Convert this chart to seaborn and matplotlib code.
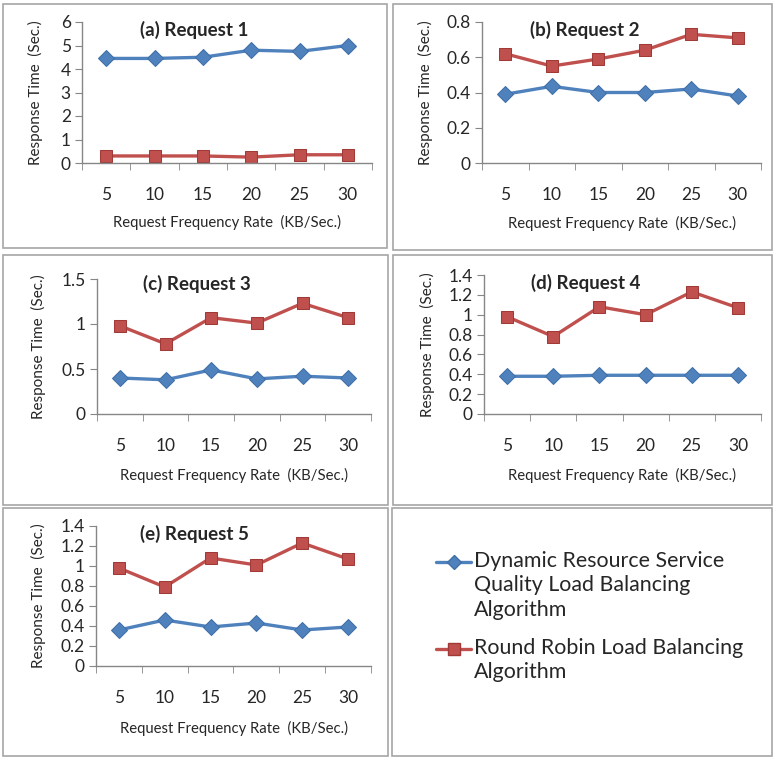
import pandas as pd
import numpy as np
import matplotlib.pyplot as plt
import seaborn as sns
from matplotlib.patches import Rectangle
from matplotlib.lines import Line2D

# ── Data ─────────────────────────────────────────────────────
rates = ["5", "10", "15", "20", "25", "30"]
algos = ["Dynamic Resource Service\nQuality Load Balancing\nAlgorithm",
         "Round Robin Load Balancing\nAlgorithm"]
titles = ["(a) Request 1", "(b) Request 2", "(c) Request 3",
          "(d) Request 4", "(e) Request 5"]

drsq = [
    [4.45, 4.45, 4.50, 4.80, 4.75, 5.00],
    [0.39, 0.435, 0.40, 0.40, 0.42, 0.38],
    [0.40, 0.38, 0.49, 0.39, 0.42, 0.40],
    [0.38, 0.38, 0.39, 0.39, 0.39, 0.39],
    [0.36, 0.46, 0.39, 0.43, 0.36, 0.39],
]
round_robin = [
    [0.30, 0.30, 0.30, 0.25, 0.35, 0.35],
    [0.62, 0.55, 0.59, 0.64, 0.73, 0.71],
    [0.98, 0.78, 1.07, 1.01, 1.23, 1.07],
    [0.98, 0.78, 1.08, 1.00, 1.23, 1.07],
    [0.98, 0.79, 1.08, 1.01, 1.23, 1.07],
]
y_ticks = [
    [0, 1, 2, 3, 4, 5, 6],
    [0, 0.2, 0.4, 0.6, 0.8],
    [0, 0.5, 1, 1.5],
    [0, 0.2, 0.4, 0.6, 0.8, 1, 1.2, 1.4],
    [0, 0.2, 0.4, 0.6, 0.8, 1, 1.2, 1.4],
]

# ── Style ────────────────────────────────────────────────────
sns.set_style("white")
plt.rcParams["font.family"] = ["Lato", "DejaVu Sans"]

BLUE = "#4F81BD"
RED = "#C0504D"
BLUE_EDGE = "#3F6FA8"
RED_EDGE = "#A03A37"
AXIS = "#868686"
W, H = 773, 757

fig = plt.figure(figsize=(W / 100, H / 100), dpi=100)


def fx(px):
    return px / W


def fy(py):
    return 1 - py / H


# panel frames (pixels: x0, y0, x1, y1)
frames = [(3, 4, 387, 248), (393, 4, 772, 250), (3, 255, 388, 505),
          (393, 255, 772, 505), (3, 508, 388, 756), (392, 508, 772, 756)]
for x0, y0, x1, y1 in frames:
    fig.add_artist(Rectangle((fx(x0), fy(y1)), fx(x1 - x0), (y1 - y0) / H,
                             fill=False, edgecolor="#A6A6A6", lw=1.2))

# axes positions (pixels: x0, x1, ytop, ybot) and label spots
boxes = [(82, 372, 22, 163), (482, 761, 22, 163), (97, 371, 279, 414),
         (484, 761, 275, 414), (96, 371, 526, 666)]
ylab_x = [35, 425, 38, 427, 38]
xlab_y = [222, 223, 475, 475, 728]
title_xy = [(194, 30), (585, 30), (197, 284), (586, 283), (194, 534)]

for i in range(5):
    x0, x1, yt, yb = boxes[i]
    ax = fig.add_axes([fx(x0), fy(yb), (x1 - x0) / W, (yb - yt) / H])
    df = pd.DataFrame({
        "rate": rates * 2,
        "time": drsq[i] + round_robin[i],
        "algo": [algos[0]] * 6 + [algos[1]] * 6,
    })
    sns.lineplot(data=df, x="rate", y="time", hue="algo", style="algo",
                 palette=[BLUE, RED], markers=["D", "s"], dashes=False,
                 lw=2.4, markersize=8, legend=False, ax=ax)
    for ln, ec in zip(ax.lines, [BLUE_EDGE, RED_EDGE]):
        ln.set_markeredgecolor(ec)
    ax.lines[1].set_markersize(9)

    ax.set_xlim(-0.5, 5.5)
    ax.set_ylim(y_ticks[i][0], y_ticks[i][-1])
    ax.set_yticks(y_ticks[i])
    ax.set_yticklabels([f"{t:g}" for t in y_ticks[i]])
    ax.set_xticks(range(6))
    ax.set_xticklabels(rates)
    ax.set_xticks(np.arange(-0.5, 6, 1), minor=True)
    ax.tick_params(axis="x", which="major", length=0, pad=17,
                   labelsize=12.5)
    ax.tick_params(axis="x", which="minor", length=5, color=AXIS,
                   direction="out", bottom=True)
    ax.tick_params(axis="y", length=5, color=AXIS, direction="out",
                   left=True, labelsize=12.5, pad=3)
    for s in ["top", "right"]:
        ax.spines[s].set_visible(False)
    for s in ["left", "bottom"]:
        ax.spines[s].set_color(AXIS)
        ax.spines[s].set_linewidth(1.0)
    ax.patch.set_alpha(0)

    ax.set_xlabel("Request Frequency Rate  (KB/Sec.)", fontsize=10.7)
    ax.set_ylabel("Response Time  (Sec.)", fontsize=11)
    ax.xaxis.set_label_coords(0.5, (yb - xlab_y[i]) / (yb - yt),
                              transform=ax.transAxes)
    ax.yaxis.set_label_coords((ylab_x[i] - x0) / (x1 - x0), 0.5,
                              transform=ax.transAxes)
    ax.xaxis.label.set_va("center")
    ax.yaxis.label.set_va("center")

    tx, ty = title_xy[i]
    fig.text(fx(tx), fy(ty), titles[i], fontsize=13.5, fontweight="bold",
             ha="center", va="center")

# ── Legend (handle sits level with the first text line) ──────
legend_rows = [(562, BLUE, BLUE_EDGE, "D", 7), (649, RED, RED_EDGE, "s", 9)]
for (py, col, ec, mk, ms), label in zip(legend_rows, algos):
    fig.add_artist(Line2D([fx(436), fx(471)], [fy(py), fy(py)], color=col,
                          lw=2.4, transform=fig.transFigure))
    fig.add_artist(Line2D([fx(453.5)], [fy(py)], color=col, marker=mk,
                          markersize=ms, markeredgecolor=ec,
                          transform=fig.transFigure))
    fig.text(fx(474), fy(py - 11), label, fontsize=15.4, ha="left",
             va="top", linespacing=1.28)

plt.savefig("out.png", dpi=100)
